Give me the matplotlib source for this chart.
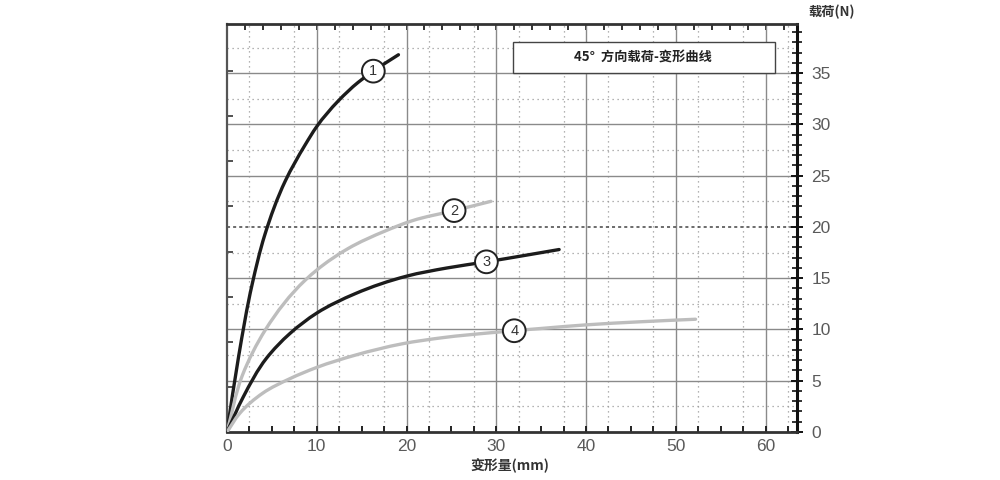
import numpy as np
import matplotlib.pyplot as plt
from matplotlib.ticker import MultipleLocator
from matplotlib.path import Path
from matplotlib.patches import PathPatch, Rectangle

plt.rcParams['font.family'] = ['Noto Sans CJK SC', 'DejaVu Sans']

# curve data (deformation mm, load N)
x1 = [0, 1.3, 2.8, 4.2, 6.5, 8.7, 10, 12.4, 14.6, 16.3, 19.1]
y1 = [0, 7.4, 14.4, 19.2, 24.5, 28.0, 29.8, 32.3, 34.1, 35.2, 36.8]

x2 = [0, 1.7, 4.3, 8.7, 10, 13.5, 17.6, 20.6, 25.3, 29.4]
y2 = [0, 5.5, 10.0, 14.8, 15.8, 17.9, 19.6, 20.6, 21.6, 22.5]

x3 = [0, 1.8, 4.4, 7, 10, 14.3, 20, 24.5, 28.9, 33, 37]
y3 = [0, 3.4, 7.2, 9.6, 11.6, 13.5, 15.2, 16.0, 16.6, 17.2, 17.8]

x4 = [0, 1.4, 4, 7, 10, 14.3, 19.5, 24, 29.6, 35, 40, 46, 52.2]
y4 = [0, 1.8, 3.8, 5.2, 6.3, 7.5, 8.6, 9.2, 9.7, 10.1, 10.45, 10.75, 11.0]

curve_names = ['1', '2', '3', '4']
label_x = [16.3, 25.3, 28.9, 32.0]
colors = ['#1c1c1c', '#bdbdbd', '#1c1c1c', '#bdbdbd']

x_ticks = [0, 10, 20, 30, 40, 50, 60]
y_ticks = [0, 5, 10, 15, 20, 25, 30, 35]

fig = plt.figure(figsize=(10, 4.8), dpi=100)
ax = fig.add_axes([0.227, 0.1, 0.57, 0.85])
ax.set_xlim(0, 63.5)
ax.set_ylim(0, 39.8)


def smooth_path(xs, ys):
    # bezier through the read points, built in pixel space (bessel tangents)
    pts = ax.transData.transform(np.column_stack([xs, ys]))
    n = len(pts)
    seg = pts[1:] - pts[:-1]
    h = np.hypot(seg[:, 0], seg[:, 1])
    tang = []
    for i in range(n):
        if i == 0:
            t = seg[0] / h[0]
        elif i == n - 1:
            t = seg[-1] / h[-1]
        else:
            h0, h1 = h[i - 1], h[i]
            t = h1 / (h0 + h1) * seg[i - 1] / h0 + h0 / (h0 + h1) * seg[i] / h1
        tang.append(t / np.hypot(*t))
    verts = [pts[0]]
    codes = [Path.MOVETO]
    for i in range(n - 1):
        L = h[i]
        verts += [pts[i] + tang[i] * L / 3, pts[i + 1] - tang[i + 1] * L / 3, pts[i + 1]]
        codes += [Path.CURVE4] * 3
    verts = ax.transData.inverted().transform(np.array(verts))
    return Path(verts, codes)


# grid: solid every 10 / 5, dotted in between
for gx in x_ticks[1:]:
    ax.axvline(gx, color='#8a8a8a', lw=1.0, zorder=1)
for gx in np.arange(2.5, 63, 5):
    ax.axvline(gx, color='#9a9a9a', lw=0.9, ls=(0, (1, 3)), zorder=1)
for gy in y_ticks[1:]:
    if gy == 20:
        ax.axhline(gy, color='#444444', lw=1.1, ls=(0, (2, 2)), zorder=1)
    else:
        ax.axhline(gy, color='#8a8a8a', lw=1.0, zorder=1)
for gy in np.arange(2.5, 39.8, 5):
    ax.axhline(gy, color='#9a9a9a', lw=0.9, ls=(0, (1, 3)), zorder=1)

for xs, ys, c in zip([x1, x2, x3, x4], [y1, y2, y3, y4], colors):
    ax.add_patch(PathPatch(smooth_path(xs, ys), fc='none', ec=c, lw=2.4,
                           capstyle='round', zorder=3))

for name, lx, xs, ys in zip(curve_names, label_x, [x1, x2, x3, x4], [y1, y2, y3, y4]):
    ly = np.interp(lx, xs, ys)
    ax.text(lx, ly, name, ha='center', va='center', fontsize=10.5, color='#333333',
            family='Liberation Sans', zorder=5,
            bbox=dict(boxstyle='circle,pad=0.3', fc='white', ec='#222222', lw=1.4))

# title box
ax.add_patch(Rectangle((0.502, 0.88), 0.459, 0.076, transform=ax.transAxes,
                       fc='white', ec='#444444', lw=1.0, zorder=6))
ax.text(0.73, 0.918, '45°  方向载荷-变形曲线', transform=ax.transAxes, ha='center', va='center',
        fontsize=9.5, fontweight='bold', color='#222222', zorder=7)

# axes styling
ax.yaxis.tick_right()
ax.set_yticks(y_ticks)
ax.yaxis.set_minor_locator(MultipleLocator(1))
ax.tick_params(axis='y', which='major', direction='inout', length=9, width=1.4,
               labelsize=12.5, pad=6, colors='#111111')
ax.tick_params(axis='y', which='minor', direction='inout', length=7, width=1.2, colors='#111111')

ax.set_xticks(x_ticks)
ax.xaxis.set_minor_locator(MultipleLocator(2.5))
ax.tick_params(axis='x', which='both', direction='in', length=4, width=1.4,
               labelsize=12.5, pad=5, colors='#222222')
for lab in ax.get_xticklabels() + ax.get_yticklabels():
    lab.set_family('Liberation Sans')
    lab.set_color('#5a5a5a')

# top ticks every 2 and left ticks (secondary scale)
top = ax.secondary_xaxis('top')
top.set_xticks(np.arange(2, 63, 2))
top.tick_params(direction='in', length=4, width=1.3, labeltop=False, colors='#222222')
left = ax.secondary_yaxis('left')
left.set_yticks(np.arange(4.4, 39, 4.4))
left.tick_params(direction='in', length=4, width=1.2, labelleft=False, colors='#333333')
for sp in top.spines.values():
    sp.set_visible(False)
for sp in left.spines.values():
    sp.set_visible(False)

ax.spines['right'].set_linewidth(2.2)
ax.spines['right'].set_color('#111111')
ax.spines['top'].set_linewidth(2.0)
ax.spines['top'].set_color('#333333')
ax.spines['bottom'].set_linewidth(2.0)
ax.spines['bottom'].set_color('#333333')
ax.spines['left'].set_linewidth(1.6)
ax.spines['left'].set_color('#555555')

fig.text(0.832, 0.975, '载荷(N)', ha='center', va='center', fontsize=9.5,
         fontweight='bold', color='#333333')
fig.text(0.51, 0.03, '变形量(mm)', ha='center', va='center', fontsize=10,
         fontweight='bold', color='#333333')

fig.savefig('out.png', dpi=100)
